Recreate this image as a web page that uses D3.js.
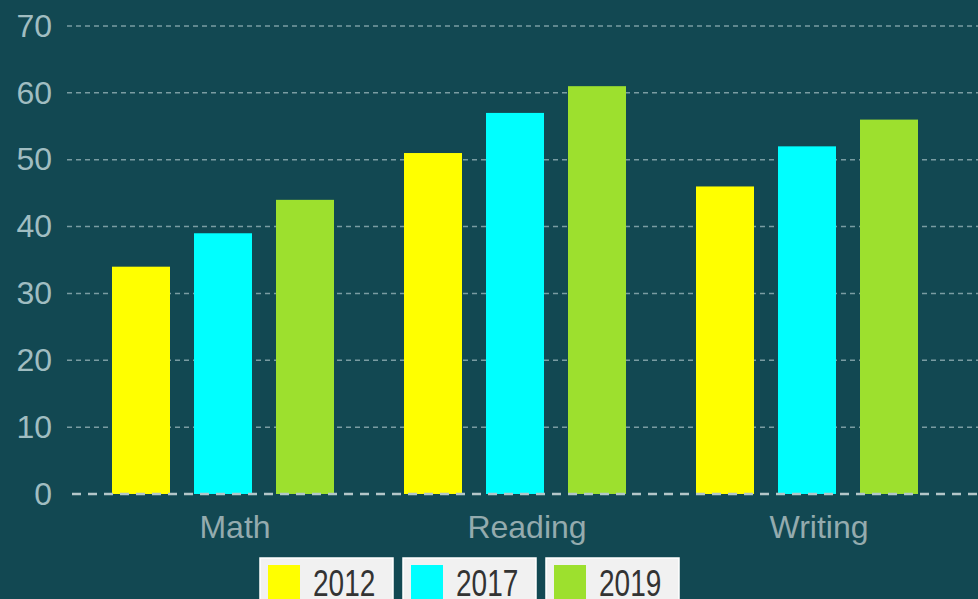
<!DOCTYPE html>
<html><head><meta charset="utf-8">
<script src="https://cdn.jsdelivr.net/npm/d3@7"></script>
<style>
html,body{margin:0;padding:0;background:#124852;}
svg{display:block;font-family:"Liberation Sans",Arial,sans-serif;}
</style></head>
<body>
<svg id="chart" width="978" height="599"></svg>
<script>
const categories = ["Math", "Reading", "Writing"];
const seriesNames = ["2012", "2017", "2019"];
const values2012 = [34, 51, 46];
const values2017 = [39, 57, 52];
const values2019 = [44, 61, 56];
const yTicks = [0, 10, 20, 30, 40, 50, 60, 70];
const colors = ["#ffff00", "#00ffff", "#9de02e"];

const seriesValues = [values2012, values2017, values2019];
const svg = d3.select("#chart");
const W = 978, H = 599;
svg.append("rect").attr("width", W).attr("height", H).attr("fill", "#124852");

const y = d3.scaleLinear().domain([0, 70]).range([494, 26]);
const x0 = d3.scaleBand().domain(categories).range([77, 953]).padding(0);
const x1 = d3.scaleBand().domain(seriesNames).range([35, 257]).paddingInner(24/82).paddingOuter(0);

// grid lines
const grid = svg.append("g");
grid.selectAll("line").data(yTicks.filter(d => d > 0)).join("line")
  .attr("x1", 67).attr("x2", W)
  .attr("y1", d => y(d)).attr("y2", d => y(d))
  .attr("stroke", "#7a9ca2").attr("stroke-width", 1.5)
  .attr("stroke-dasharray", "5,4");

// y axis labels
const yAxis = d3.axisLeft(y).tickValues(yTicks).tickSize(0).tickPadding(0);
const ya = svg.append("g").attr("transform", "translate(52,0)").call(yAxis);
ya.select(".domain").remove();
ya.selectAll("text").attr("fill", "#a0bdc1").attr("font-size", 32)
  .attr("font-family", "Liberation Sans, Arial, sans-serif");

// bars
const groups = svg.append("g").selectAll("g").data(categories).join("g")
  .attr("transform", c => `translate(${x0(c)},0)`);
groups.selectAll("rect").data((c, ci) => seriesNames.map((s, si) => ({s, si, v: seriesValues[si][ci]})))
  .join("rect")
  .attr("x", d => x1(d.s)).attr("width", x1.bandwidth())
  .attr("y", d => y(d.v)).attr("height", d => y(0) - y(d.v))
  .attr("fill", d => colors[d.si]);

// zero line
svg.append("line").attr("x1", 72).attr("x2", W).attr("y1", y(0)).attr("y2", y(0))
  .attr("stroke", "#b3c6c9").attr("stroke-width", 2.5).attr("stroke-dasharray", "9,7");

// x axis labels
const xAxis = d3.axisBottom(x0).tickSize(0).tickPadding(0);
const xa = svg.append("g").attr("transform", `translate(12,538)`).call(xAxis);
xa.select(".domain").remove();
xa.selectAll("text").attr("fill", "#94abae").attr("font-size", 32)
  .attr("y", 0).attr("dy", 0)
  .attr("font-family", "Liberation Sans, Arial, sans-serif");

// legend
const itemW = 133, itemGap = 10, legX = 260, legY = 558;
const leg = svg.append("g").selectAll("g").data(seriesNames).join("g")
  .attr("transform", (d, i) => `translate(${legX + i * (itemW + itemGap)},${legY})`);
leg.append("rect").attr("width", itemW).attr("height", 50)
  .attr("fill", "#f1f1f1").attr("stroke", "#ffffff").attr("stroke-width", 1.5);
leg.append("rect").attr("x", 8).attr("y", 7).attr("width", 32).attr("height", 40)
  .attr("fill", (d, i) => colors[i]);
leg.append("text").attr("x", 53).attr("y", 28.5).text(d => d)
  .attr("transform", "scale(1,1.35)")
  .attr("fill", "#333333").attr("font-size", 28);
</script>
</body></html>
